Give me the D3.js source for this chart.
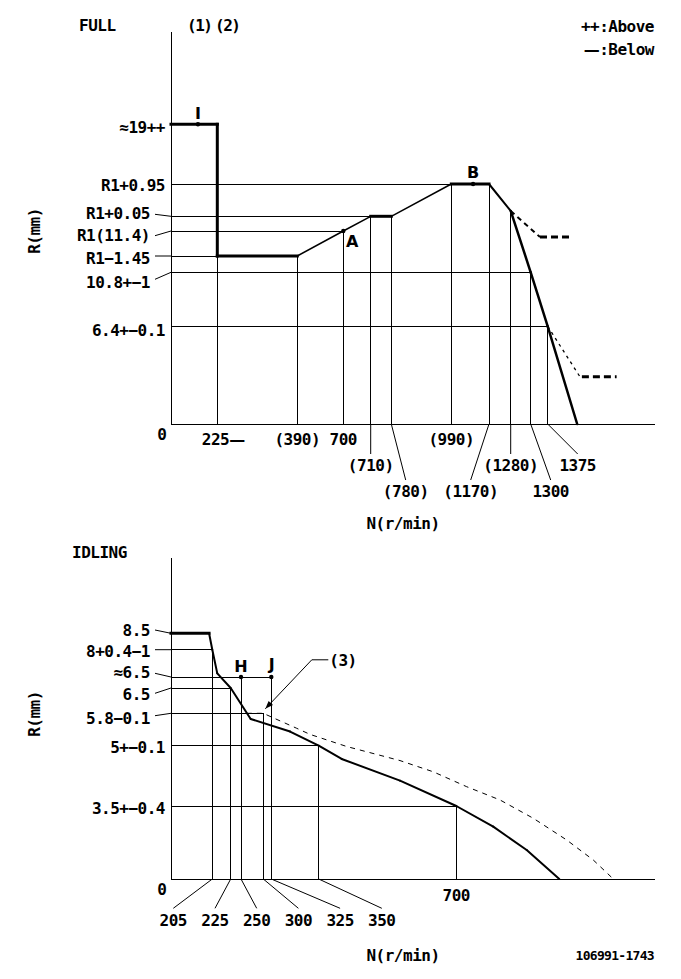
<!DOCTYPE html>
<html><head><meta charset="utf-8">
<script src="https://cdn.jsdelivr.net/npm/d3@7"></script>
<style>
html,body{margin:0;padding:0;background:#fff;}
svg text{font-family:"DejaVu Sans Mono",monospace;font-weight:bold;font-size:16px;fill:#000;letter-spacing:-0.5px;}
svg tspan.wide{font-family:"DejaVu Sans",sans-serif;}
svg text.mk{font-family:"DejaVu Sans",sans-serif;letter-spacing:0;}
</style></head><body>
<svg id="c" width="681" height="979"></svg>
<script>
// ================= DATA =================
// ---- FULL chart ----
const fullTicksN      = [225, 390, 700, 710, 780, 990, 1170, 1280, 1300, 1375];
const fullTickLabels  = ["225—", "(390)", "700", "(710)", "(780)", "(990)", "(1170)", "(1280)", "1300", "1375"];
const fullTickTopR    = [9.95, 9.95, 11.4, 11.45, 11.45, 12.35, 12.35, 11.6, 9.8, 6.4];
const fullLevelsR     = [19, 12.35, 11.45, 11.4, 9.95, 9.8, 6.4];
const fullLevelLabels = ["≈19++", "R1+0.95", "R1+0.05", "R1(11.4)", "R1−1.45", "10.8+−1", "6.4+−0.1"];
const fullLevelToN    = [0, 990, 710, 700, 225, 1300, 1375];
const fullCurveN      = [0, 225, 225, 390, 700, 710, 780, 990, 1170, 1280, 1300, 1375, 1505];
const fullCurveR      = [19, 19, 9.95, 9.95, 11.4, 11.45, 11.45, 12.35, 12.35, 11.6, 9.8, 6.4, 0];
const fullDashAN      = [1280, 1341, 1481];
const fullDashAR      = [11.6, 11.05, 11.05];
const fullDashBN      = [1375, 1517, 1679];
const fullDashBR      = [6.4, 3.1, 3.1];
const fullMarkNames   = ["I", "A", "B"];
const fullMarkN       = [131, 700, 1094];
const fullMarkR       = [19, 11.4, 12.35];

// ---- IDLING chart ----
const idleTicksN      = [205, 225, 250, 300, 325, 350, 700];
const idleTickLabels  = ["205", "225", "250", "300", "325", "350", "700"];
const idleTickTopR    = [8, 6.5, 6.8, 5.8, 6.8, 5, 3.5];
const idleLevelsR     = [8.5, 8, 6.8, 6.5, 5.8, 5, 3.5];
const idleLevelLabels = ["8.5", "8+0.4−1", "≈6.5", "6.5", "5.8−0.1", "5+−0.1", "3.5+−0.4"];
const idleLevelToN    = [0, 205, 325, 225, 300, 350, 700];
const idleCurveN      = [0, 189, 205, 210.4, 225, 271.7, 334.9, 350, 408.5, 556.8, 700, 794, 879, 962];
const idleCurveR      = [8.5, 8.5, 8, 6.96, 6.5, 5.66, 5.35, 5.0, 4.67, 4.13, 3.5, 2.51, 1.39, 0];
const idleDashN       = [263, 300, 326.4, 338.4, 345.4, 421.2, 556.8, 641.5, 726.5, 811.2, 895.9, 980.8, 1048.5, 1099.4];
const idleDashR       = [5.8, 5.8, 5.68, 5.43, 5.28, 4.98, 4.63, 4.35, 3.98, 3.65, 2.91, 1.87, 0.91, 0];
const idleMarkNames   = ["H", "J"];
const idleMarkN       = [250, 325];
const idleMarkR       = [6.8, 6.8];

// ================= LAYOUT / STYLE =================
const full = {x0:171, y0:424, yTop:32, xEnd:655,
  xRange:[171, 217.3, 297.3, 343.3, 370.7, 391.3, 451.3, 489, 510.7, 530.7, 547.7],
  yRange:[424, 326.3, 272.3, 256, 231, 216.3, 184, 124.3]};
const idle = {x0:171, y0:879, yTop:558, xEnd:655,
  xRange:[171, 212.3, 230.7, 241, 263.3, 271.3, 318.7, 456.3],
  yRange:[879, 806, 745.7, 713.3, 688, 677, 649.7, 633.3]};

const fullSegWidth = [3,3,3,1.5,1.5,3,1.5,3,2,2.5,2.5,2.5];
const idleSegWidth = [3,2,2,2,2,2,2,2,2,2,2,2,2];
const fullLabelDy  = [3, 1, -3.3, 4, 2, 9.4, 3.7];
const fullLeader   = [0, 0, 1, 1, 1, 1, 0];
const fullLeaderDy = [0, 0, -2, 4.7, 0, 7, 0];
const idleLabelDy  = [-3.3, 1, -4.7, 6, 5, 1, 2.3];
const idleLeader   = [1, 1, 1, 1, 1, 0, 0];
const idleLeaderDy = [-3.3, 0, -3.7, 5.3, 2.4, 0, 0];
const fullLabelDx  = [6, 0, 0, 0, 14.4, 0, -18.3, 0, 20, 30];
const fullLabelRow = [0, 0, 0, 1, 2, 0, 2, 1, 2, 1];
const fullRowsY    = [439.5, 465.5, 491.5];
const capHalf = 5.8;

// ================= DRAW =================
const svg = d3.select("#c");
const g = svg.append("g");

function txt(x, y, s, anchor) {
  const t = g.append("text").attr("x", x).attr("y", y + capHalf).attr("text-anchor", anchor || "start");
  s.split(/(—)/).filter(p => p.length).forEach(p => {
    const ts = t.append("tspan").text(p);
    if (p === "—") ts.attr("class", "wide");
  });
  return t;
}
function ln(x1, y1, x2, y2, w, crisp) {
  return g.append("line").attr("x1", x1).attr("y1", y1).attr("x2", x2).attr("y2", y2)
    .attr("stroke", "#000").attr("stroke-width", w || 1)
    .attr("shape-rendering", crisp ? "crispEdges" : "auto");
}

function drawChart(cfg, d) {
  const xs = d3.scaleLinear().domain([0, ...d.ticksN]).range(cfg.xRange);
  const ys = d3.scaleLinear().domain([0, ...d.levelsR.slice().sort((a,b)=>a-b)]).range(cfg.yRange);
  ln(cfg.x0, cfg.yTop, cfg.x0, cfg.y0, 1, true);
  ln(cfg.x0, cfg.y0, cfg.xEnd, cfg.y0, 1, true);
  d.ticksN.forEach((n, i) => ln(xs(n), ys(d.tickTopR[i]), xs(n), ys(0), 1, true));
  d.levelsR.forEach((r, i) => { if (d.levelToN[i] > 0) ln(xs(0), ys(r), xs(d.levelToN[i]), ys(r), 1, true); });
  d.levelsR.forEach((r, i) => {
    const y = ys(r);
    if (d.leader[i]) {
      ln(cfg.x0 - 16, y + d.leaderDy[i], cfg.x0, y, 1, false);
      txt(cfg.x0 - 21, y + d.labelDy[i], d.levelLabels[i], "end");
    } else {
      txt(cfg.x0 - 6, y + d.labelDy[i], d.levelLabels[i], "end");
    }
  });
  txt(cfg.x0 - 9.3, ys(0) + 10, "0", "middle");
  if (d.dash) d.dash(xs, ys);
  const pts = d.curveN.map((n, i) => [xs(n), ys(d.curveR[i])]);
  for (let i = 0; i < pts.length - 1; i++) {
    const w = d.segWidth[i];
    g.append("line").attr("x1", pts[i][0]).attr("y1", pts[i][1]).attr("x2", pts[i+1][0]).attr("y2", pts[i+1][1])
      .attr("stroke", "#000").attr("stroke-width", w)
      .attr("stroke-linecap", w >= 3 ? "square" : "round");
  }
  d.markNames.forEach((m, i) => {
    const x = xs(d.markN[i]), y = ys(d.markR[i]);
    g.append("circle").attr("cx", x).attr("cy", y).attr("r", 2.2).attr("fill", "#000");
    txt(x + d.markDx[i], y + d.markDy[i], m, "middle").attr("class", "mk");
  });
  return {xs, ys};
}

// ---- FULL ----
const F = drawChart(full, {
  ticksN: fullTicksN, tickTopR: fullTickTopR, levelsR: fullLevelsR, levelLabels: fullLevelLabels,
  levelToN: fullLevelToN, curveN: fullCurveN, curveR: fullCurveR, segWidth: fullSegWidth,
  leader: fullLeader, leaderDy: fullLeaderDy, labelDy: fullLabelDy,
  markNames: fullMarkNames, markN: fullMarkN, markR: fullMarkR, markDx: [0, 9, 0], markDy: [-11, 10, -12],
  dash: (xs, ys) => {
    const line = d3.line();
    const a = fullDashAN.map((n, i) => [xs(n), ys(fullDashAR[i])]);
    g.append("path").attr("d", line(a.slice(0, 2))).attr("fill", "none").attr("stroke", "#000")
      .attr("stroke-width", 2).attr("stroke-dasharray", "5,4");
    g.append("path").attr("d", line(a.slice(1))).attr("fill", "none").attr("stroke", "#000")
      .attr("stroke-width", 3).attr("stroke-dasharray", "7,4");
    const b = fullDashBN.map((n, i) => [xs(n), ys(fullDashBR[i])]);
    g.append("path").attr("d", line(b.slice(0, 2))).attr("fill", "none").attr("stroke", "#000")
      .attr("stroke-width", 1.3).attr("stroke-dasharray", "3,4");
    g.append("path").attr("d", line([[b[1][0] + 2, b[1][1]], b[2]])).attr("fill", "none").attr("stroke", "#000")
      .attr("stroke-width", 3).attr("stroke-dasharray", "7,4");
  }
});
fullTicksN.forEach((n, i) => {
  const x = F.xs(n), lx = x + fullLabelDx[i], row = fullLabelRow[i], ly = fullRowsY[row];
  if (row > 0) ln(x, full.y0, lx, ly - 11.5, 1, false);
  txt(lx, ly, fullTickLabels[i], "middle");
});

// ---- IDLING ----
const I = drawChart(idle, {
  ticksN: idleTicksN, tickTopR: idleTickTopR, levelsR: idleLevelsR, levelLabels: idleLevelLabels,
  levelToN: idleLevelToN, curveN: idleCurveN, curveR: idleCurveR, segWidth: idleSegWidth,
  leader: idleLeader, leaderDy: idleLeaderDy, labelDy: idleLabelDy,
  markNames: idleMarkNames, markN: idleMarkN, markR: idleMarkR, markDx: [0, 0.5], markDy: [-11, -13],
  dash: (xs, ys) => {
    const p = idleDashN.map((n, i) => [xs(n), ys(idleDashR[i])]);
    g.append("path").attr("d", d3.line()(p)).attr("fill", "none").attr("stroke", "#000")
      .attr("stroke-width", 1).attr("stroke-dasharray", "5,5");
  }
});
ln(I.xs(0), I.ys(6.8), I.xs(325), I.ys(6.8), 1, true);
idleTicksN.forEach((n, i) => {
  const x = I.xs(n);
  if (n === 700) { txt(x, idle.y0 + 16, idleTickLabels[i], "middle"); return; }
  const lx = 173.3 + i * 41.7;
  ln(x, idle.y0, lx, idle.y0 + 29.3, 1, false);
  txt(lx, idle.y0 + 41, idleTickLabels[i], "middle");
});
{
  const tx = I.xs(300) + 2, ty = I.ys(5.8) - 4.5;
  const ex = tx + 46.5, ey = ty - 49;
  g.append("path").attr("d", `M${tx},${ty}L${ex},${ey}L${ex + 16.5},${ey}`)
    .attr("fill", "none").attr("stroke", "#000").attr("stroke-width", 1);
  const ang = Math.atan2(ey - ty, ex - tx);
  const L = 8, W = 3;
  const bx = tx + L * Math.cos(ang), by = ty + L * Math.sin(ang);
  g.append("path").attr("d",
    `M${tx},${ty}L${bx - W * Math.sin(ang)},${by + W * Math.cos(ang)}L${bx + W * Math.sin(ang)},${by - W * Math.cos(ang)}Z`)
    .attr("fill", "#000");
  txt(ex + 17.5, ey + 0.7, "(3)", "start");
}

// titles & legend
txt(79, 25, "FULL", "start");
txt(187, 25, "(1)", "start").style("letter-spacing", "-1.5px");
txt(215, 25, "(2)", "start").style("letter-spacing", "-1.5px");
txt(654, 26, "++:Above", "end");
txt(654, 49, "—:Below", "end");
txt(72, 551.7, "IDLING", "start");
txt(403, 523, "N(r/min)", "middle");
txt(403, 955, "N(r/min)", "middle");
g.append("text").attr("x", 654).attr("y", 959.5).attr("text-anchor", "end")
  .style("font-size", "13px").style("letter-spacing", "-0.7px").text("106991-1743");
[231, 714].forEach(cy => {
  g.append("text").attr("transform", `translate(40,${cy}) rotate(-90)`)
    .attr("text-anchor", "middle").text("R(mm)");
});
</script>
</body></html>
